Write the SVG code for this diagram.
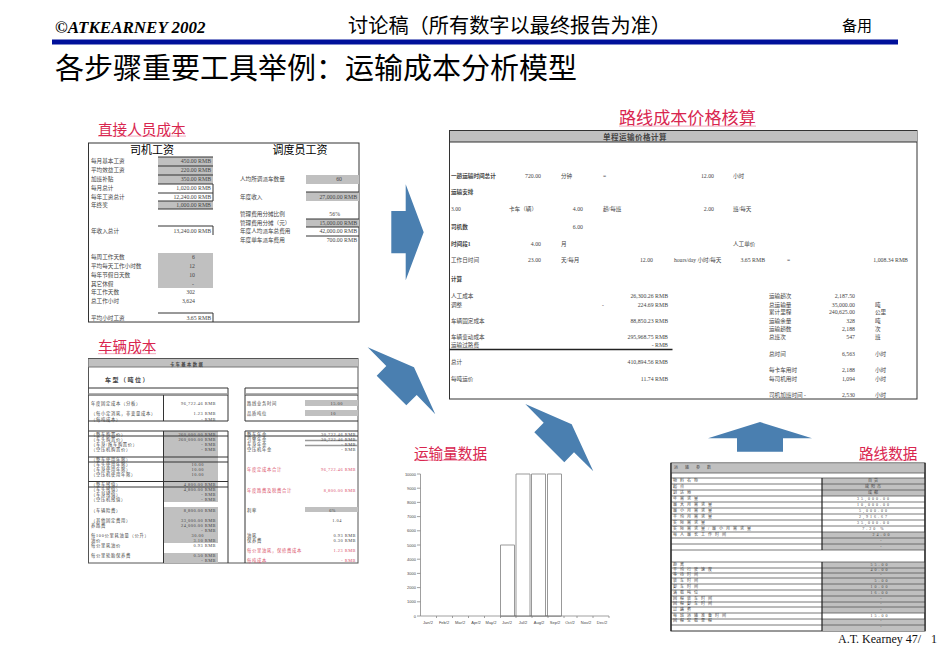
<svg xmlns="http://www.w3.org/2000/svg" width="950" height="656" viewBox="0 0 950 656">
<style>
svg{font-family:"Liberation Serif","Noto Sans CJK SC",serif}
text{fill:#444}
.h{font-family:"Noto Sans CJK SC",sans-serif;fill:#000}
.lab{font-family:"Noto Sans CJK SC",sans-serif;fill:#d9264f;font-size:14.6px}
.ul{fill:#f4b6c6}
.s{font-size:5.6px}
.v{font-size:5.8px;text-anchor:end}
.b{font-weight:700}
.m{text-anchor:middle}
.t{font-size:4.3px;letter-spacing:.7px}
.tv{font-size:4.4px;text-anchor:end;letter-spacing:.5px}
text.r{fill:#d9506a}
.g{fill:#c0c0c0}
.ln{stroke:#333;stroke-width:1;fill:none}
.lg{stroke:#777;stroke-width:1;fill:none}
.arrow{fill:#4a7fb0}
.c{font-size:4px;font-family:"Liberation Sans",sans-serif}
</style>

<g id="header">
<text x="55" y="33" style="font-size:17px;font-weight:700;font-style:italic;fill:#000">©ATKEARNEY 2002</text>
<rect x="52" y="39.500" width="846" height="5" fill="#00109a"/>
<text class="h" x="348" y="33" font-size="20.2">讨论稿（所有数字以最终报告为准）</text>
<text class="h" x="842" y="31" font-size="15">备用</text>
<text class="h" x="55" y="79" font-size="29">各步骤重要工具举例：运输成本分析模型</text>
</g>

<g id="labor-cost">
<rect class="ul" x="98" y="135.500" width="88" height="1.200"/>
<text class="lab" x="98" y="135">直接人员成本</text>
<rect x="88.500" y="143" width="270.500" height="179" fill="#fff" stroke="#333"/>
<text class="h m" x="152" y="154" font-size="11">司机工资</text>
<text class="h m" x="300" y="154" font-size="11">调度员工资</text>
<path class="g" d="M158 157h55v27h-55zM158 201h55v8h-55zM158 253h55v35h-55zM306 175h53v9h-53zM306 192h53v9h-53zM306 219h53v8h-53z"/>
<path class="ln" d="M158 157h55M158 166h55M158 175h55M158 184h55M158 193h55M158 201h55M158 209h55M213 184v17M158 226h55M213 226v9M158 313h55M213 313v9M306 192h53M306 219h53M306 227h53M306 236h53"/>
<g class="s">
<text x="91" y="163">每月基本工资</text><text x="91" y="172">平均效益工资</text><text x="91" y="181">加班补贴</text><text x="91" y="190">每月总计</text><text x="91" y="199">每年工资总计</text><text x="91" y="207">年终奖</text><text x="91" y="233">年收入总计</text><text x="91" y="259">每周工作天数</text><text x="91" y="268">平均每天工作小时数</text><text x="91" y="277">每年节假日天数</text><text x="91" y="286">其它休假</text><text x="91" y="294">年工作天数</text><text x="91" y="303">总工作小时</text><text x="91" y="320">平均小时工资</text>
<text x="240" y="181">人均所调派车数量</text><text x="240" y="199">年度收入</text><text x="240" y="216">管理费用分摊比例</text><text x="240" y="225">管理费用分摊（元）</text><text x="240" y="233">年度人均派车总费用</text><text x="240" y="242">年度单车派车费用</text>
</g>
<g class="v">
<text x="211" y="163">450.00 RMB</text><text x="211" y="172">220.00 RMB</text><text x="211" y="181">350.00 RMB</text><text x="211" y="190">1,020.00 RMB</text><text x="211" y="199">12,240.00 RMB</text><text x="211" y="207">1,000.00 RMB</text><text x="211" y="233">13,240.00 RMB</text><text x="195" y="259">6</text><text x="195" y="268">12</text><text x="195" y="277">10</text><text x="194" y="286">-</text><text x="195" y="294">302</text><text x="195" y="303">3,624</text><text x="211" y="320">3.65 RMB</text>
<text x="342" y="181">60</text><text x="357" y="199">27,000.00 RMB</text><text x="340" y="216">56%</text><text x="357" y="225">15,000.00 RMB</text><text x="357" y="233">42,000.00 RMB</text><text x="357" y="242">700.00 RMB</text>
</g>
</g>

<g id="vehicle-cost">
<rect class="ul" x="98" y="353" width="58" height="1.200"/>
<text class="lab" x="98" y="352">车辆成本</text>
<rect x="88.500" y="358.500" width="269.500" height="204.500" fill="#fff" stroke="#555"/>
<rect class="g" x="88.500" y="359" width="269.500" height="8"/>
<path class="lg" d="M88.500 367h269.500"/>
<text class="t m b" x="187" y="365.500" style="letter-spacing:1.400px">卡车基本数据</text>
<text class="t b" x="105" y="382" style="font-size:6px;letter-spacing:1.500px">车型（吨位）</text>
<path class="g" d="M163.500 431h54.500v71h-54.500zM163.500 507h54.500v36h-54.500zM163.500 553h54.500v10h-54.500zM305 400h53v6h-53zM305 410h53v6h-53zM305 507h53v5h-53z"/>
<path class="ln" d="M88.500 388h139.500M88.500 395h139.500M88.500 421h139.500M228 388v33M163.500 395v26M245 388h113M245 395h113M245 421h113M245 388v33M88.500 431h139.500M88.500 436h139.500M88.500 457h139.500M88.500 462h139.500M88.500 481.500h139.500M88.500 487h139.500M163.500 431v132M228 431v132M245 431h113M245 436h113M245 431v132"/>
<path d="M88.500 394h139.500M245 394h113M305 440.500h53M305 445.500h53" stroke="#999" stroke-width="1.500"/>
<g class="t">
<text x="91" y="405">年度固定成本（分板）</text><text x="91" y="415">（每小定消耗，非变量成本）</text><text x="91" y="421">（每吨成本）</text><text x="91" y="436">（整车购置价）</text><text x="91" y="441">（车头购置价）</text><text x="91" y="446">（车身/拖车购置价）</text><text x="91" y="451">（空压机购置价）</text><text x="91" y="461">（整车使用年限）</text><text x="91" y="466">（车头使用年限）</text><text x="91" y="471">（车身使用年限）</text><text x="91" y="476">（空压机使用年限）</text><text x="91" y="486">（整车残值）</text><text x="91" y="491">（车头残值）</text><text x="91" y="496">（车身残值）</text><text x="91" y="501">（空压机残值）</text><text x="91" y="512">（车辆险费）</text><text x="91" y="522">（其他固定费用）</text><text x="91" y="527">养路费</text><text x="91" y="537">每100公里耗油量（公升）</text><text x="91" y="542">油价</text><text x="91" y="547">每公里耗油价</text><text x="91" y="557">每公里轮胎保养费</text>
<text x="247" y="405">路线业务时间</text><text x="247" y="415">品质吨位</text><text x="247" y="436">整车年金</text><text x="247" y="441">引擎年金</text><text x="247" y="446">车身年金</text><text x="247" y="451">空压机年金</text><text class="r" x="247" y="471">年度定成本合计</text><text class="r" x="247" y="491.500">年度路费及税费合计</text><text x="247" y="511.500">利率</text><text x="247" y="537">油耗</text><text x="247" y="542">保养费</text><text class="r" x="247" y="552">每公里油耗，保修费成本</text><text class="r" x="247" y="562">每吨成本</text>
</g>
<g class="tv">
<text x="216" y="405">96,722.46 RMB</text><text x="216" y="415">1.23 RMB</text><text x="216" y="421">-  RMB</text><text x="216" y="436">260,000.00 RMB</text><text x="216" y="441">260,000.00 RMB</text><text x="216" y="446">-  RMB</text><text x="216" y="451">-  RMB</text><text x="204" y="466">10.00</text><text x="204" y="471">10.00</text><text x="204" y="476">10.00</text><text x="216" y="486">4,800.00 RMB</text><text x="216" y="491">4,800.00 RMB</text><text x="216" y="496">-  RMB</text><text x="216" y="501">-  RMB</text><text x="216" y="512">8,800.00 RMB</text><text x="216" y="522">33,000.00 RMB</text><text x="216" y="527">24,000.00 RMB</text><text x="216" y="532">-  RMB</text><text x="204" y="537">30.00</text><text x="216" y="542">3.10 RMB</text><text x="216" y="547">0.93 RMB</text><text x="216" y="557">0.50 RMB</text><text x="216" y="562">-  RMB</text>
<text x="343" y="405">15.00</text><text x="336" y="415">10</text><text x="356" y="436">30,722.46 RMB</text><text x="356" y="441">30,722.46 RMB</text><text x="356" y="446">-  RMB</text><text x="356" y="451">-  RMB</text><text class="r" x="356" y="471">96,722.46 RMB</text><text class="r" x="356" y="491.500">8,800.00 RMB</text><text x="336" y="511.500">6%</text><text x="342" y="522">1.04</text><text x="356" y="537">0.93 RMB</text><text x="356" y="542">0.30 RMB</text><text class="r" x="356" y="552">1.23 RMB</text><text class="r" x="356" y="562">-  RMB</text>
</g>
</g>

<g id="route-cost">
<rect class="ul" x="619" y="125.500" width="137" height="1.200"/>
<text class="lab" x="619" y="124" style="font-size:17.100px">路线成本价格核算</text>
<rect x="449.500" y="130.500" width="467.500" height="268.500" fill="#fff" stroke="#333"/>
<rect class="g" x="450" y="131" width="467" height="11"/>
<path class="ln" d="M449.500 142h467.500M449.500 130v269"/>
<path d="M449.500 349.500h223" stroke="#222" stroke-width="1.500"/>
<text class="b m" x="635" y="139.500" style="font-size:7.500px;letter-spacing:.5px">单程运输价格计算</text>
<g class="s">
<text class="b" x="451" y="178">一趟运输时间总计</text><text x="561" y="178">分钟</text><text x="603" y="178">=</text><text x="733" y="178">小时</text>
<text class="b" x="451" y="194">运输安排</text>
<text x="451" y="211">3.00</text><text x="509" y="211">卡车（辆）</text><text x="603" y="211">趟/每班</text><text x="733" y="211">班/每天</text>
<text class="b" x="451" y="229">司机数</text>
<text class="b" x="451" y="246">时间段1</text><text x="561" y="246">月</text><text x="733" y="246">人工单价</text>
<text x="451" y="262">工作日时间</text><text x="561" y="262">天/每月</text><text x="674" y="262">hours/day 小时/每天</text><text x="787" y="262">=</text>
<text class="b" x="451" y="281">计算</text>
<text x="451" y="298">人工成本</text><text x="451" y="307">调整</text><text x="602" y="307">-</text><text x="451" y="323">车辆固定成本</text><text x="451" y="339">车辆变动成本</text><text x="451" y="347">运输过路费</text><text x="451" y="364">总计</text><text x="451" y="381">每吨运价</text>
<text x="769" y="298">运输趟次</text><text x="769" y="307">总运输量</text><text x="875" y="307">吨</text><text x="769" y="314">累计里程</text><text x="875" y="314">公里</text><text x="769" y="323">运输余量</text><text x="875" y="323">吨</text><text x="769" y="331">运输趟数</text><text x="875" y="331">次</text><text x="769" y="339">总班次</text><text x="875" y="339">班</text><text x="769" y="356">总时间</text><text x="875" y="356">小时</text><text x="769" y="372">每卡车用时</text><text x="875" y="372">小时</text><text x="769" y="381">每司机用时</text><text x="875" y="381">小时</text><text x="769" y="397">司机加班时间 -</text><text x="875" y="397">小时</text>
</g>
<g class="v">
<text x="541" y="178">720.00</text><text x="714" y="178">12.00</text><text x="583" y="211">4.00</text><text x="714" y="211">2.00</text><text x="583" y="229">6.00</text><text x="541" y="246">4.00</text><text x="541" y="262">23.00</text><text x="653" y="262">12.00</text><text x="765" y="262">3.65 RMB</text><text x="908" y="262">1,008.34 RMB</text>
<text x="668" y="298">26,300.26 RMB</text><text x="668" y="307">224.69 RMB</text><text x="668" y="323">88,850.23 RMB</text><text x="668" y="339">295,968.75 RMB</text><text x="668" y="347">-  RMB</text><text x="668" y="364">410,894.56 RMB</text><text x="668" y="381">11.74 RMB</text>
<text x="855" y="298">2,187.50</text><text x="855" y="307">35,000.00</text><text x="855" y="314">240,625.00</text><text x="855" y="323">328</text><text x="855" y="331">2,188</text><text x="855" y="339">547</text><text x="855" y="356">6,563</text><text x="855" y="372">2,188</text><text x="855" y="381">1,094</text><text x="855" y="397">2,530</text>
</g>
</g>

<g id="volume-data">
<rect class="ul" x="414" y="459.500" width="73" height="1.500"/>
<text class="lab" x="414" y="459">运输量数据</text>
<path d="M420.500 474v142h188.500M417 474h3.500M417 488.200h3.500M417 502.400h3.500M417 516.600h3.500M417 530.800h3.500M417 545h3.500M417 559.200h3.500M417 573.400h3.500M417 587.600h3.500M417 601.800h3.500M417 616h3.500M436.500 616v2M452.500 616v2M468.500 616v2M484.500 616v2M500.500 616v2M516 616v2M532 616v2M548 616v2M564 616v2M577 616v2M593 616v2M609 616v2" stroke="#888" fill="none" stroke-width=".8"/>
<path d="M500.500 616v-71h14v71M516 616v-142h14v142M531.500 616v-142h14v142M547.500 616v-142h14v142" fill="#fff" stroke="#999"/>
<path d="M500.500 616h61" stroke="#666"/>
<g class="c" text-anchor="end">
<text x="416" y="475.500">10000</text><text x="416" y="489.700">9000</text><text x="416" y="503.900">8000</text><text x="416" y="518">7000</text><text x="416" y="532.300">6000</text><text x="416" y="546.500">5000</text><text x="416" y="560.700">4000</text><text x="416" y="574.900">3000</text><text x="416" y="589.100">2000</text><text x="416" y="603.300">1000</text><text x="416" y="617.500">0</text>
</g>
<g class="c" text-anchor="middle">
<text x="428" y="623.500">Jan/2</text><text x="444" y="623.500">Feb/2</text><text x="460" y="623.500">Mar/2</text><text x="476" y="623.500">Apr/2</text><text x="491" y="623.500">May/2</text><text x="507" y="623.500">Jun/2</text><text x="523" y="623.500">Jul/2</text><text x="539" y="623.500">Aug/2</text><text x="555" y="623.500">Sep/2</text><text x="570" y="623.500">Oct/2</text><text x="586" y="623.500">Nov/2</text><text x="602" y="623.500">Dec/2</text>
</g>
</g>

<g id="route-data">
<rect class="ul" x="859" y="459.500" width="58" height="1.500"/>
<text class="lab" x="859" y="458.500">路线数据</text>
<rect x="671" y="463" width="254" height="168" fill="#fff" stroke="#333"/>
<rect class="g" x="671.500" y="463.500" width="253" height="9.500"/>
<path class="g" d="M822 478h103v18h-103zM822 532h103v18h-103zM822 562h103v51h-103zM822 619h103v12h-103z"/>
<path d="M671 473h254M671 478h254M671 484h254M671 490h254M671 496h254M671 502h254M671 508h254M671 514h254M671 520h254M671 526h254M671 532h254M671 538h254M671 544h254M671 550h254M671 562h254M671 568h254M671 573h254M671 578h254M671 584h254M671 590h254M671 596h254M671 602h254M671 607h254M671 613h254M671 619h254M671 625h254" stroke="#555" stroke-width=".8" fill="none"/>
<path d="M822 478v72M822 562v69M925 463v168M671 463v168" stroke="#222" stroke-width="1.200"/>
<g class="t" style="letter-spacing:3px;font-size:4px" transform="translate(0,-.7)">
<text x="674" y="470">运 输 参 数</text><text x="673" y="483">物料名称</text><text x="673" y="489">起点</text><text x="673" y="495">到达地</text><text x="673" y="501">年需求量</text><text x="673" y="507">最大月需求量</text><text x="673" y="513">最小月需求量</text><text x="673" y="519">平均月需求量</text><text x="673" y="525">实际需求量</text><text x="673" y="531">实际需求量/最小月需求量</text><text x="673" y="537">每人最长工作时间</text>
<text x="673" y="567">距离</text><text x="673" y="572">平均行驶速度</text><text x="673" y="577">等待时间</text><text x="673" y="583">装车时间</text><text x="673" y="589">卸车时间</text><text x="673" y="595">满载吨位</text><text x="673" y="601">回程装车时间</text><text x="673" y="606">回程卸车时间</text><text x="673" y="612">过路费</text><text x="673" y="618">每班运输准备时间</text><text x="673" y="623">回程空载里程</text>
</g>
<g class="t m" style="letter-spacing:2px;font-size:4px" transform="translate(0,-.7)">
<text x="874" y="483">百货</text><text x="874" y="489">咸阳市</text><text x="874" y="495">成都</text><text x="874" y="501">35,000.00</text><text x="874" y="507">10,000.00</text><text x="874" y="513">5,000.00</text><text x="874" y="519">2,916.67</text><text x="874" y="525">35,000.00</text><text x="874" y="531">7.20 %</text><text x="882" y="537">24.00</text><text x="882" y="543">-</text><text x="882" y="549">-</text>
<text x="880" y="567">55.00</text><text x="880" y="572">40.00</text><text x="882" y="577">-</text><text x="882" y="583">5.00</text><text x="880" y="589">10.00</text><text x="880" y="595">16.00</text><text x="882" y="601">-</text><text x="882" y="606">-</text><text x="882" y="612">-</text><text x="880" y="618">15.00</text><text x="882" y="623">-</text><text x="882" y="629">-</text>
</g>
</g>

<g id="connectors">
<polygon class="arrow" points="405.700,184.300 423.700,232.300 405.700,280.300 405.700,253.300 391.300,253.300 391.300,211 405.700,211"/>
<polygon class="arrow" points="367.700,347.300 414,367.300 435.300,414.300 416.700,395 406.300,405.300 376.700,375.700 386.300,366"/>
<polygon class="arrow" points="525.300,404 571.700,424.300 593.300,471.300 574,452.300 564.300,462.300 534.300,432.300 543.700,422.700"/>
<polygon class="arrow" points="708,438.300 760,422 812,438.300 783,438.300 783,451.700 737,451.700 737,438.300"/>
</g>

<g id="footer">
<text x="838" y="643" style="font-size:12px;fill:#111">A.T. Kearney 47/</text>
<text x="931" y="643" style="font-size:12px;fill:#111">1</text>
</g>
</svg>
